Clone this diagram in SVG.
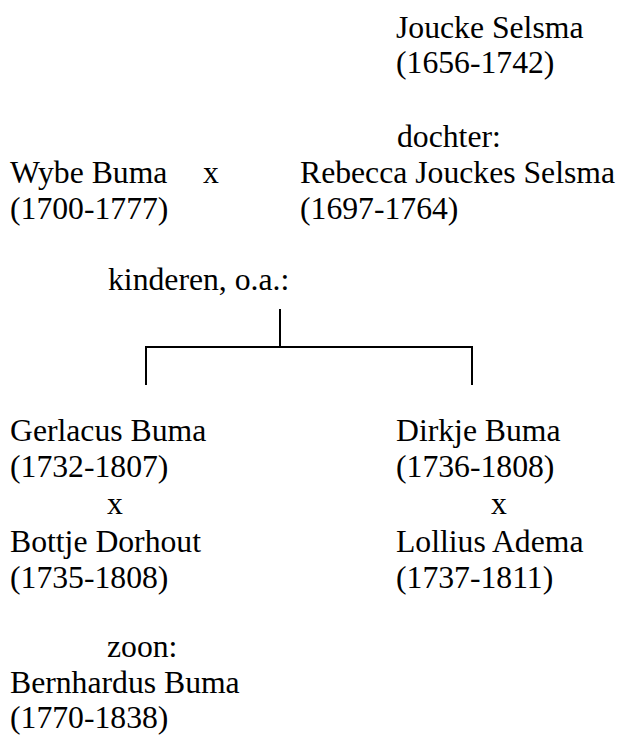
<svg xmlns="http://www.w3.org/2000/svg" width="620" height="735" viewBox="0 0 620 735">
<style>
text{font-family:"Liberation Serif","Times New Roman",serif;font-size:31.7px;fill:#000}
.c{stroke:#000;stroke-width:2;fill:none}
</style>
<rect width="620" height="735" fill="#fff"/>
<g id="joucke"><text x="396" y="38">Joucke Selsma</text><text x="396" y="73">(1656-1742)</text></g>
<g id="rebecca"><text x="397" y="147">dochter:</text><text x="300" y="183">Rebecca Jouckes Selsma</text><text x="300" y="219">(1697-1764)</text></g>
<g id="wybe"><text x="10" y="183">Wybe Buma</text><text x="10" y="219">(1700-1777)</text></g>
<g id="marriage1"><text x="203" y="183">x</text></g>
<g id="kinderen"><text x="108" y="290">kinderen, o.a.:</text></g>
<g id="connectors">
<path class="c" d="M280 309V347M146 385V347H472V385"/>
</g>
<g id="gerlacus"><text x="10" y="441">Gerlacus Buma</text><text x="10" y="477">(1732-1807)</text><text x="107" y="514">x</text><text x="10" y="552">Bottje Dorhout</text><text x="10" y="588">(1735-1808)</text></g>
<g id="dirkje"><text x="396" y="441">Dirkje Buma</text><text x="396" y="477">(1736-1808)</text><text x="491" y="514">x</text><text x="396" y="552">Lollius Adema</text><text x="396" y="588">(1737-1811)</text></g>
<g id="bernhardus"><text x="107" y="657">zoon:</text><text x="10" y="693">Bernhardus Buma</text><text x="10" y="728">(1770-1838)</text></g>
</svg>
